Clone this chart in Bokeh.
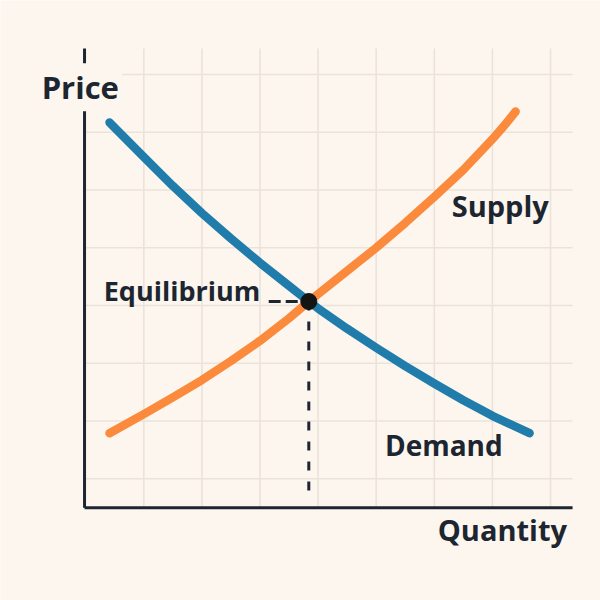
from bokeh.plotting import figure
from bokeh.models import Range1d, Label
from bokeh.embed import file_html
from bokeh.resources import INLINE

# ---- data (quantity, price) ----
demand_q = [0.41, 1.0, 1.5, 2.0, 2.5, 3.0, 3.5, 3.84, 4.0, 4.5, 5.0, 5.5, 6.0, 6.5, 7.0, 7.64]
demand_p = [6.67, 6.07, 5.57, 5.10, 4.66, 4.24, 3.84, 3.57, 3.45, 3.10, 2.77, 2.45, 2.15, 1.86, 1.59, 1.29]
supply_q = [0.41, 1.0, 1.5, 2.0, 2.5, 3.0, 3.5, 3.84, 4.5, 5.0, 5.5, 6.0, 6.5, 7.0, 7.2, 7.4]
supply_p = [1.29, 1.62, 1.91, 2.21, 2.54, 2.89, 3.28, 3.57, 4.10, 4.50, 4.93, 5.38, 5.85, 6.38, 6.61, 6.86]
eq_q = 3.84
eq_p = 3.57
x_grid = [1, 2, 3, 4, 5, 6, 7, 8]
y_grid = [0.5, 1.5, 2.5, 3.5, 4.5, 5.5, 6.5, 7.5]
x_end = 8.38   # right end of quantity axis
y_end = 7.95   # top end of price axis
labels = ["Price", "Quantity", "Supply", "Demand", "Equilibrium"]

BG = "#fcf6ee"
INK = "#1d2630"
GRID = "#ebe3d9"
BLUE = "#1f7cab"
ORANGE = "#fb8a3d"
FONT = "Open Sans"

p = figure(width=600, height=600, output_backend="svg", toolbar_location=None,
           x_axis_type=None, y_axis_type=None,
           x_range=Range1d(-1.4664, 8.8606), y_range=Range1d(-1.6066, 8.7812),
           min_border=0)
p.background_fill_color = BG
p.border_fill_color = BG
p.outline_line_color = None
p.grid.visible = False

# grid
p.multi_line(xs=[[g, g] for g in x_grid], ys=[[0, y_end] for _ in x_grid],
             line_color=GRID, line_width=1.6)
p.multi_line(xs=[[0, x_end] for _ in y_grid], ys=[[g, g] for g in y_grid],
             line_color=GRID, line_width=1.6)

# axes
p.segment(x0=[-0.02, -0.02], y0=[0, 0], x1=[-0.02, x_end], y1=[y_end, 0],
          line_color=INK, line_width=3)

# curves
p.line(demand_q, demand_p, line_color=BLUE, line_width=8.5, line_cap="round", line_join="round")
p.line(supply_q, supply_p, line_color=ORANGE, line_width=8.5, line_cap="round", line_join="round")

# equilibrium guides
p.segment(x0=[eq_q], y0=[eq_p], x1=[eq_q], y1=[0.16], line_color=INK, line_width=3, line_dash="9 11")
p.segment(x0=[3.15], y0=[eq_p], x1=[eq_q], y1=[eq_p], line_color=INK, line_width=3, line_dash="12 5")
p.scatter([eq_q], [eq_p], size=16, fill_color="#141414", line_color="#141414")

def lab(text, x, y, size, bg=None):
    l = Label(x=x, y=y, text=text, text_font=FONT, text_font_size=f"{size}px",
              text_font_style="bold", text_color=INK, text_baseline="alphabetic", text_align="left")
    if bg:
        l.background_fill_color = bg
        l.padding = 3
    p.add_layout(l)

lab(labels[0], -0.81, 7.28, 31, bg=BG)
lab(labels[1], 6.06, -0.38, 29)
lab(labels[2], 6.30, 5.24, 29)
lab(labels[3], 5.15, 1.08, 28)
lab(labels[4], 0.31, 3.76, 27)

open("out.html", "w").write(file_html(p, INLINE))
